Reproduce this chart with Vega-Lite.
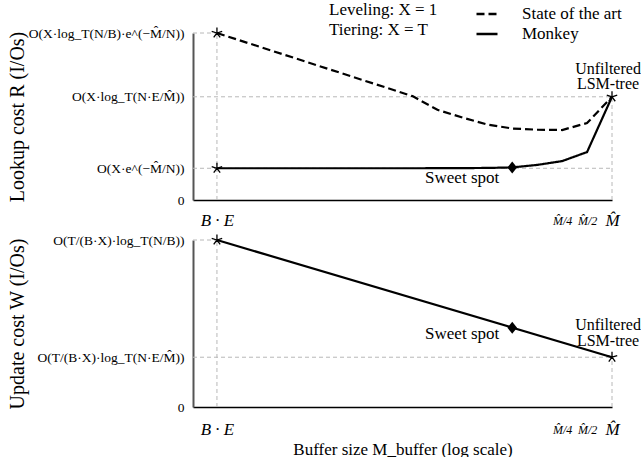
{
  "$schema": "https://vega.github.io/schema/vega-lite/v6.json",
  "padding": {"left": 7, "top": 2, "right": 0, "bottom": 0},
  "background": "white",
  "config": {
    "font": "Liberation Serif",
    "view": {"stroke": null},
    "text": {"font": "Liberation Serif"},
    "axis": {"labelFont": "Liberation Serif", "titleFont": "Liberation Serif", "labelColor": "black", "titleColor": "black", "ticks": false, "tickSize": 0, "grid": false, "titleFontWeight": "normal", "labelOverlap": false, "labelFlush": false},
    "legend": {"labelFont": "Liberation Serif", "titleFont": "Liberation Serif"}
  },
  "bounds": "flush",
  "spacing": 40,
  "vconcat": [
    {
      "width": 419,
      "height": 167,
      "resolve": {"legend": {"strokeDash": "independent"}},
      "encoding": {
        "x": {"type": "quantitative", "scale": {"domain": [-16.8, 0], "nice": false, "zero": false},
          "axis": {"values": [-15.84, -2, -1, 0], "title": null,
            "labelExpr": "datum.value < -10 ? 'B · E' : datum.value == -2 ? 'M̂/4' : datum.value == -1 ? 'M̂/2' : 'M̂'",
            "labelFontSize": {"condition": {"test": "datum.value < -0.5 && datum.value > -10", "value": 12}, "value": 17},
            "labelFontStyle": "italic", "labelBaseline": "middle", "labelPadding": 20, "domainColor": "black", "domainWidth": 1.5}},
        "y": {"type": "quantitative", "scale": {"domain": [0, 100], "nice": false},
          "axis": {"values": [0, 19, 61.8, 100], "title": "Lookup cost R (I/Os)", "titleFontSize": 20,
            "labelExpr": "datum.value == 0 ? '0' : datum.value < 30 ? 'O(X·e^(−M̂/N))' : datum.value < 70 ? 'O(X·log_T(N·E/M̂))' : 'O(X·log_T(N/B)·e^(−M̂/N))'",
            "labelFontSize": 13.5, "labelPadding": 9, "labelLimit": 175, "minExtent": 160, "maxExtent": 160, "titlePadding": 6, "domainColor": "#555", "domainWidth": 2}}
      },
      "layer": [
        {
          "data": {"values": [
            {"x": -16.8, "x2": -15.84, "y": 100, "y2": 100},
            {"x": -16.8, "x2": 0, "y": 61.8, "y2": 61.8},
            {"x": -16.8, "x2": 0, "y": 19, "y2": 19},
            {"x": -15.84, "x2": -15.84, "y": 0, "y2": 100},
            {"x": 0, "x2": 0, "y": 0, "y2": 61.8}
          ]},
          "mark": {"type": "rule", "color": "#b8b8b8", "strokeDash": [4, 3], "strokeWidth": 1},
          "encoding": {"x": {"field": "x"}, "x2": {"field": "x2"}, "y": {"field": "y"}, "y2": {"field": "y2"}}
        },
        {
          "data": {"values": [
            {"series": "State of the art", "x": -15.84, "y": 100},
            {"series": "State of the art", "x": -8, "y": 62.2},
            {"series": "State of the art", "x": -7, "y": 54},
            {"series": "State of the art", "x": -6, "y": 49.4},
            {"series": "State of the art", "x": -5, "y": 45.2},
            {"series": "State of the art", "x": -4, "y": 42.8},
            {"series": "State of the art", "x": -3, "y": 42.1},
            {"series": "State of the art", "x": -2, "y": 41.9},
            {"series": "State of the art", "x": -1, "y": 46.1},
            {"series": "State of the art", "x": 0, "y": 61.8},
            {"series": "Monkey", "x": -15.84, "y": 19},
            {"series": "Monkey", "x": -8, "y": 19},
            {"series": "Monkey", "x": -6, "y": 19.1},
            {"series": "Monkey", "x": -5, "y": 19.2},
            {"series": "Monkey", "x": -4, "y": 19.5},
            {"series": "Monkey", "x": -3, "y": 21},
            {"series": "Monkey", "x": -2, "y": 23.3},
            {"series": "Monkey", "x": -1, "y": 28.7},
            {"series": "Monkey", "x": 0, "y": 61.8}
          ]},
          "mark": {"type": "line", "color": "black", "strokeWidth": 2.2},
          "encoding": {
            "x": {"field": "x"}, "y": {"field": "y"},
            "strokeDash": {"field": "series", "type": "nominal",
              "scale": {"domain": ["State of the art", "Monkey"], "range": [[8, 4], [1, 0]]},
              "legend": {"title": ["Leveling: X = 1", "Tiering:  X = T"], "titleOrient": "left", "titleFontSize": 17, "titleFontWeight": "normal", "titleColor": "black", "titleLineHeight": 20, "titlePadding": 37, "titleBaseline": "top", "titleAnchor": "start",
                "orient": "none", "legendX": 136, "legendY": -31, "labelFontSize": 17, "labelColor": "black", "labelOffset": 23, "symbolType": "stroke", "symbolSize": 441, "symbolStrokeWidth": 2.5, "symbolStrokeColor": "black", "rowPadding": -1, "padding": 0}}
          }
        },
        {
          "data": {"values": [
            {"x": -15.84, "y": 100},
            {"x": -15.84, "y": 19},
            {"x": 0, "y": 61.8}
          ]},
          "mark": {"type": "point", "shape": "M0,-1L0,0M0.951,-0.309L0,0M0.588,0.809L0,0M-0.588,0.809L0,0M-0.951,-0.309L0,0", "filled": false, "stroke": "black", "strokeWidth": 1.3, "size": 121, "opacity": 1},
          "encoding": {"x": {"field": "x"}, "y": {"field": "y"}}
        },
        {
          "data": {"values": [{"x": -4, "y": 19.5, "label": "Sweet spot"}]},
          "layer": [
            {"mark": {"type": "point", "shape": "M0,-1L0.8,0L0,1L-0.8,0Z", "filled": true, "color": "black", "size": 144, "opacity": 1},
             "encoding": {"x": {"field": "x"}, "y": {"field": "y"}}},
            {"mark": {"type": "text", "font": "Liberation Serif", "fontSize": 17, "align": "right", "baseline": "middle", "dx": -13, "dy": 11, "color": "black"},
             "encoding": {"x": {"field": "x"}, "y": {"field": "y"}, "text": {"field": "label"}}}
          ]
        },
        {
          "data": {"values": [{"x": 0, "y": 61.8, "label": ["Unfiltered", "LSM-tree"]}]},
          "mark": {"type": "text", "font": "Liberation Serif", "fontSize": 16, "align": "center", "baseline": "bottom", "dx": -4, "dy": -20, "lineHeight": 15.5, "color": "black"},
          "encoding": {"x": {"field": "x"}, "y": {"field": "y"}, "text": {"field": "label"}}
        }
      ]
    },
    {
      "width": 419,
      "height": 167,
      "encoding": {
        "x": {"type": "quantitative", "scale": {"domain": [-16.8, 0], "nice": false, "zero": false},
          "axis": {"values": [-15.84, -2, -1, 0], "title": "Buffer size M_buffer  (log scale)", "titleFontSize": 17, "titlePadding": 4,
            "labelExpr": "datum.value < -10 ? 'B · E' : datum.value == -2 ? 'M̂/4' : datum.value == -1 ? 'M̂/2' : 'M̂'",
            "labelFontSize": {"condition": {"test": "datum.value < -0.5 && datum.value > -10", "value": 12}, "value": 17},
            "labelFontStyle": "italic", "labelBaseline": "middle", "labelPadding": 22, "domainColor": "black", "domainWidth": 1.5}},
        "y": {"type": "quantitative", "scale": {"domain": [0, 100], "nice": false},
          "axis": {"values": [0, 29.8, 100], "title": "Update cost W (I/Os)", "titleFontSize": 20,
            "labelExpr": "datum.value == 0 ? '0' : datum.value < 50 ? 'O(T/(B·X)·log_T(N·E/M̂))' : 'O(T/(B·X)·log_T(N/B))'",
            "labelFontSize": 13.5, "labelPadding": 9, "labelLimit": 175, "minExtent": 160, "maxExtent": 160, "titlePadding": 6, "domainColor": "#555", "domainWidth": 2}}
      },
      "layer": [
        {
          "data": {"values": [
            {"x": -16.8, "x2": -15.84, "y": 100, "y2": 100},
            {"x": -16.8, "x2": 0, "y": 29.8, "y2": 29.8},
            {"x": -15.84, "x2": -15.84, "y": 0, "y2": 100},
            {"x": 0, "x2": 0, "y": 0, "y2": 29.8}
          ]},
          "mark": {"type": "rule", "color": "#b8b8b8", "strokeDash": [4, 3], "strokeWidth": 1},
          "encoding": {"x": {"field": "x"}, "x2": {"field": "x2"}, "y": {"field": "y"}, "y2": {"field": "y2"}}
        },
        {
          "data": {"values": [
            {"series": "Monkey", "x": -15.84, "y": 100},
            {"series": "Monkey", "x": 0, "y": 29.8}
          ]},
          "mark": {"type": "line", "color": "black", "strokeWidth": 2.2},
          "encoding": {"x": {"field": "x"}, "y": {"field": "y"}}
        },
        {
          "data": {"values": [
            {"x": -15.84, "y": 100},
            {"x": 0, "y": 29.8}
          ]},
          "mark": {"type": "point", "shape": "M0,-1L0,0M0.951,-0.309L0,0M0.588,0.809L0,0M-0.588,0.809L0,0M-0.951,-0.309L0,0", "filled": false, "stroke": "black", "strokeWidth": 1.3, "size": 121, "opacity": 1},
          "encoding": {"x": {"field": "x"}, "y": {"field": "y"}}
        },
        {
          "data": {"values": [{"x": -4, "y": 47.5, "label": "Sweet spot"}]},
          "layer": [
            {"mark": {"type": "point", "shape": "M0,-1L0.8,0L0,1L-0.8,0Z", "filled": true, "color": "black", "size": 144, "opacity": 1},
             "encoding": {"x": {"field": "x"}, "y": {"field": "y"}}},
            {"mark": {"type": "text", "font": "Liberation Serif", "fontSize": 17, "align": "right", "baseline": "middle", "dx": -13, "dy": 6, "color": "black"},
             "encoding": {"x": {"field": "x"}, "y": {"field": "y"}, "text": {"field": "label"}}}
          ]
        },
        {
          "data": {"values": [{"x": 0, "y": 29.8, "label": ["Unfiltered", "LSM-tree"]}]},
          "mark": {"type": "text", "font": "Liberation Serif", "fontSize": 16, "align": "center", "baseline": "bottom", "dx": -4, "dy": -24, "lineHeight": 15.5, "color": "black"},
          "encoding": {"x": {"field": "x"}, "y": {"field": "y"}, "text": {"field": "label"}}
        }
      ]
    }
  ]
}
